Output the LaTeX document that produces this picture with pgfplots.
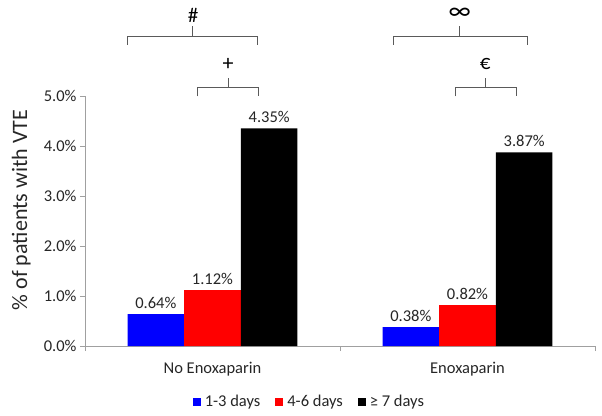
\documentclass[border=0pt]{standalone}
\usepackage{pgfplots}
\pgfplotsset{compat=1.18}
\usepackage{fontspec}
\setmainfont{Carlito}
\definecolor{axgray}{RGB}{160,160,160}
\definecolor{brgray}{RGB}{90,90,90}
\begin{document}
\begin{tikzpicture}
\begin{axis}[
  at={(0,0)}, anchor=south west,
  scale only axis, width=510pt, height=250pt,
  ybar, bar width=0.2222,
  xmin=0, xmax=2, ymin=0, ymax=5,
  axis x line*=bottom, axis y line*=left,
  axis line style={axgray},
  xtick={0.5,1.5}, xticklabels={No Enoxaparin,Enoxaparin},
  minor xtick={0,1,2},
  major x tick style={draw=none},
  minor x tick style={axgray},
  minor tick length=5pt,
  ytick={0,1,2,3,4,5},
  y tick style={axgray},
  major tick length=5pt,
  tick align=outside,
  yticklabel={\pgfmathprintnumber[fixed,fixed zerofill,precision=1]{\tick}\%},
  /pgf/number format/assume math mode=true,
  ticklabel style={font=\fontsize{16.5}{18}\selectfont, text=black!85},
  xticklabel style={yshift=-8pt},
  every axis y label/.style={at={(axis description cs:-0.125,0.544)},rotate=90,anchor=center},
  ylabel={\% of patients with VTE},
  ylabel style={font=\fontsize{22}{24}\selectfont, text=black!85},
  nodes near coords={\pgfmathprintnumber[fixed,fixed zerofill,precision=2]{\pgfplotspointmeta}\%},
  nodes near coords style={font=\fontsize{16.5}{18}\selectfont, text=black!85, yshift=2pt, /pgf/number format/assume math mode=true},
  clip=false,
  legend style={at={(0.44,-0.224)}, anchor=center, draw=none, legend columns=3,
    font=\fontsize{16.5}{18}\selectfont, text=black!85,
    /tikz/every odd column/.append style={column sep=2pt},
    /tikz/every even column/.append style={column sep=13pt}},
  legend image code/.code={\fill[#1] (0pt,-4pt) rectangle (8pt,4pt);},
]
\addplot[fill=blue, draw=none, bar shift=-0.2222] coordinates {(0.5,0.64) (1.5,0.38)};
\addplot[fill=red, draw=none, bar shift=0] coordinates {(0.5,1.12) (1.5,0.82)};
\addplot[fill=black, draw=none, bar shift=0.2222] coordinates {(0.5,4.35) (1.5,3.87)};
\legend{1-3 days, 4-6 days, ≥ 7 days}
% brackets
\draw[brgray, line width=1pt] (axis cs:0.1686,6.02) -- (axis cs:0.1686,6.18) -- (axis cs:0.678,6.18) -- (axis cs:0.678,6.02);
\draw[brgray, line width=1pt] (axis cs:0.4235,6.18) -- (axis cs:0.4235,6.4);
\node[font=\fontsize{21}{22}\selectfont] at (axis cs:0.4235,6.62) {\#};
\draw[brgray, line width=1pt] (axis cs:0.443,4.99) -- (axis cs:0.443,5.16) -- (axis cs:0.682,5.16) -- (axis cs:0.682,4.99);
\draw[brgray, line width=1pt] (axis cs:0.561,5.16) -- (axis cs:0.561,5.36);
\node[font=\fontsize{22}{22}\selectfont] at (axis cs:0.561,5.64) {+};
\draw[brgray, line width=1pt] (axis cs:1.208,6.02) -- (axis cs:1.208,6.18) -- (axis cs:1.737,6.18) -- (axis cs:1.737,6.02);
\draw[brgray, line width=1pt] (axis cs:1.4695,6.18) -- (axis cs:1.4695,6.4);
\node[font=\fontsize{26}{26}\selectfont] at (axis cs:1.4695,6.64) {∞};
\draw[brgray, line width=1pt] (axis cs:1.451,4.99) -- (axis cs:1.451,5.16) -- (axis cs:1.694,5.16) -- (axis cs:1.694,4.99);
\draw[brgray, line width=1pt] (axis cs:1.569,5.16) -- (axis cs:1.569,5.36);
\node[font=\fontsize{21}{22}\selectfont] at (axis cs:1.569,5.64) {€};
\end{axis}
\pgfresetboundingbox
\path[use as bounding box] (-85pt,-69pt) rectangle (517pt,346pt);
\end{tikzpicture}
\end{document}
